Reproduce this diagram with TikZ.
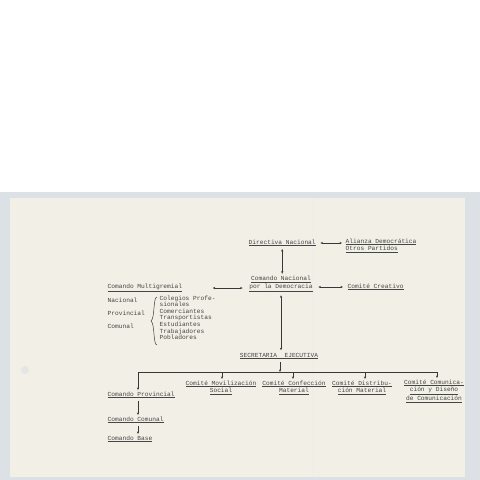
\documentclass[tikz,border=0pt]{standalone}
\usepackage{fontspec}
\setmonofont{Liberation Mono}
\usetikzlibrary{arrows.meta}
\definecolor{paper}{HTML}{F2F0E6}
\definecolor{edge}{HTML}{DCE1E5}
\definecolor{ink}{HTML}{454545}
\definecolor{lineink}{HTML}{383838}
\tikzset{
 lbl/.style={font=\ttfamily\fontsize{6.2}{7.3}\selectfont, text=ink, inner sep=0.5pt, anchor=west},
 ml/.style={lbl, align=left},
 mc/.style={lbl, align=center},
 conn/.style={draw=lineink, line width=0.65pt},
 arr/.style={conn, -{Stealth[length=2.6pt,width=2.2pt]}},
 darr/.style={conn, {Stealth[length=2.6pt,width=2.2pt]}-{Stealth[length=2.6pt,width=2.2pt]}},
}
\begin{document}
\begin{tikzpicture}[x=1pt,y=-1pt]
\useasboundingbox (0,0) rectangle (480,480);
\fill[white] (0,0) rectangle (480,480);
\fill[edge] (0,192) rectangle (480,480);
\fill[paper] (10,198) rectangle (465,477);
\draw[black!7, line width=0.6pt] (312,198) -- (312,477);
\fill[black!10] (25,370) circle (4);

\node[lbl] (dir) at (248,243) {\underline{Directiva Nacional}};
\node[ml] (ali) at (345,245.5) {\underline{Alianza Democrática}\\\underline{Otros Partidos}};
\node[mc, anchor=center] (cn) at (281,284) {\underline{Comando Nacional}\\\underline{por la Democracia}};
\node[lbl] (cc) at (347,287) {\underline{Comité Creativo}};
\node[lbl] (cm) at (107,288) {\underline{Comando Multigremial}};
\node[lbl] (nac) at (107,300) {Nacional};
\node[lbl] (prov) at (107,313) {Provincial};
\node[lbl] (com) at (107,326) {Comunal};
\node[ml, anchor=north west, font=\ttfamily\fontsize{6.2}{6.6}\selectfont] (gre) at (159,295) {Colegios Profe-\\sionales\\Comerciantes\\Transportistas\\Estudiantes\\Trabajadores\\Pobladores};
\draw[conn, line width=0.5pt] (157,297) .. controls (153,297) and (155,318) .. (151,321) .. controls (155,324) and (153,345) .. (157,345);

\node[lbl, anchor=center] (sec) at (279,356) {\underline{SECRETARIA\ \ EJECUTIVA}};
\coordinate (busL) at (138,372);
\coordinate (busR) at (437,372);
\coordinate (busM) at (280,372);
\node[lbl] (cp) at (107,395) {\underline{Comando Provincial}};
\node[mc, anchor=north] (cms) at (221,380) {\underline{Comité Movilización}\\\underline{Social}};
\node[mc, anchor=north] (ccm) at (294,380) {\underline{Comité Confección}\\\underline{Material}};
\node[mc, anchor=north] (cdm) at (362,380) {\underline{Comité Distribu-}\\\underline{ción Material}};
\node[mc, anchor=north] (ccd) at (434,379) {\underline{Comité Comunica-}\\\underline{ción y Diseño}\\\underline{de Comunicación}};
\node[lbl] (cco) at (107,420) {\underline{Comando Comunal}};
\node[lbl] (cb) at (107,439) {\underline{Comando Base}};

\draw[darr] ([xshift=4pt]dir.east) -- ([xshift=-3pt]dir.east -| ali.west);
\draw[darr] ([yshift=-2pt]dir.south) -- ([yshift=2pt]dir.south |- cn.north);
\draw[darr] ([xshift=5pt]cn.east |- cc.west) -- ([xshift=-4pt]cc.west);
\draw[darr] ([xshift=-36pt]cn.west |- cm.east) -- ([xshift=-6pt]cn.west |- cm.east);
\draw[darr] ([yshift=-3pt]cn.south) -- ([yshift=2pt]cn.south |- sec.north);
\draw[arr] ([yshift=-2pt]busM |- sec.south) -- (busM);
\draw[conn] (busL) -- (busR);
\draw[arr] (busL) -- ([yshift=1pt]busL |- cp.north);
\draw[arr] (busL -| 222,0) -- ([yshift=1pt]cms.north -| 222,0);
\draw[arr] (busL -| 293,0) -- ([yshift=1pt]ccm.north -| 293,0);
\draw[arr] (busL -| 365,0) -- ([yshift=1pt]cdm.north -| 365,0);
\draw[arr] (busR) -- ([yshift=1pt]ccd.north -| busR);
\draw[arr] ([yshift=-2pt]cp.south -| busL) -- ([yshift=1pt]cco.north -| busL);
\draw[arr] ([yshift=-2pt]cco.south -| busL) -- ([yshift=1pt]cb.north -| busL);
\end{tikzpicture}
\end{document}
